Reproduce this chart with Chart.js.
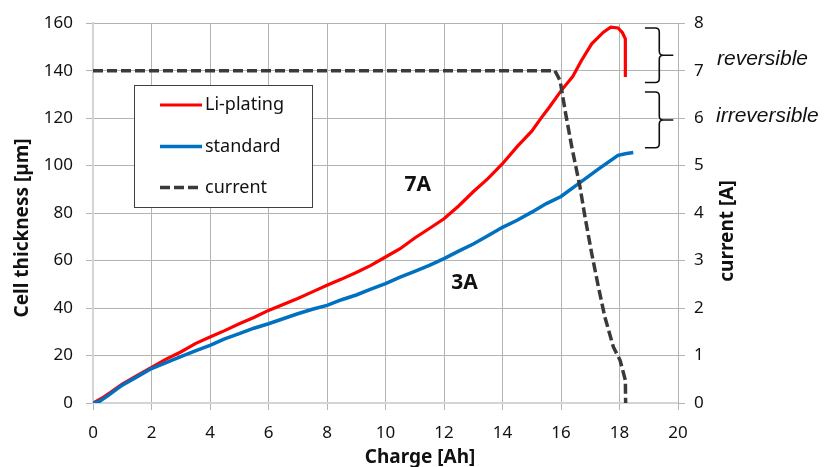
<!DOCTYPE html>
<html>
<head>
<meta charset="utf-8">
<script src="https://cdn.jsdelivr.net/npm/chart.js@4/dist/chart.umd.min.js"></script>
<style>
  html, body { margin: 0; padding: 0; background: #ffffff; }
  #wrap { width: 825px; height: 467px; }
</style>
</head>
<body>
<div id="wrap"><canvas id="c" width="825" height="467"></canvas></div>
<script>
// Cell thickness during charging (Li-plating vs. standard) and charge current
const chargeLi = [0, 0.3, 0.6, 1, 1.5, 2, 2.5, 3, 3.5, 4, 4.5, 5, 5.5, 6, 6.5, 7, 7.5, 8, 8.5, 9, 9.5, 10, 10.5, 11, 11.5, 12, 12.5, 13, 13.5, 14, 14.5, 15, 15.3, 15.6, 16, 16.4, 16.7, 17.05, 17.45, 17.7, 17.95, 18.1, 18.2, 18.2];
const thicknessLi = [0, 2, 4.5, 8, 11.5, 15, 18.5, 21.5, 25, 27.8, 30.5, 33.4, 36, 39, 41.5, 44, 46.8, 49.6, 52.2, 55, 58, 61.5, 65, 69.5, 73.5, 77.6, 83, 89, 94.5, 100.8, 108, 114.5, 119.7, 124.6, 131.5, 137.5, 144.3, 151.3, 156.2, 158.3, 158, 156, 153.4, 137.3];

const chargeStd = [0, 0.2, 0.5, 1, 1.5, 2, 2.5, 3, 3.5, 4, 4.5, 5, 5.5, 6, 6.5, 7, 7.5, 8, 8.5, 9, 9.5, 10, 10.5, 11, 11.5, 12, 12.5, 13, 13.5, 14, 14.5, 15, 15.5, 16, 16.6, 17.3, 17.95, 18.2, 18.47];
const thicknessStd = [0, 0.5, 3, 7.5, 11, 14.5, 17, 19.5, 22, 24.3, 27, 29.2, 31.5, 33.4, 35.5, 37.6, 39.5, 41.1, 43.5, 45.5, 48, 50.3, 53, 55.5, 58, 60.8, 64, 67, 70.5, 74, 77, 80.4, 84, 87, 92.4, 98.7, 104.3, 105, 105.5];

const chargeCurrent = [0, 2, 4, 6, 8, 10, 12, 14, 15.79, 15.97, 16.14, 16.37, 16.65, 16.82, 17.05, 17.28, 17.5, 17.79, 18.02, 18.2, 18.21];
const currentA = [7, 7, 7, 7, 7, 7, 7, 7, 7, 6.79, 6.16, 5.39, 4.55, 3.92, 3.15, 2.44, 1.81, 1.18, 0.9, 0.48, 0];

const seriesNames = ['Li-plating', 'standard', 'current'];
const xTickStep = 2, xMax = 20;
const yTickStep = 20, yMax = 160;
const y1TickStep = 1, y1Max = 8;

// thickness ranges marked by the braces [bottom, top] in µm
const reversibleSpan = [135, 158];
const irreversibleSpan = [107.5, 131];
// current labels placed near the curves: [charge, thickness]
const label7A = [11.1, 92];
const label3A = [12.7, 50.6];

const pts = (xs, ys) => xs.map((x, i) => ({ x, y: ys[i] }));

const FONT = '"Noto Sans", "Open Sans", sans-serif';
const GRID = '#b3b3b3';

const overlay = {
  id: 'overlay',
  afterDatasetsDraw(chart) {
    const { ctx, chartArea: a, scales } = chart;
    const sx = scales.x, sy = scales.y;
    ctx.save();

    // legend box
    const lx = 134.5, ly = 85.5, lw = 178, lh = 122;
    ctx.fillStyle = '#ffffff';
    ctx.fillRect(lx, ly, lw, lh);
    ctx.strokeStyle = '#404040';
    ctx.lineWidth = 1;
    ctx.strokeRect(lx, ly, lw, lh);
    const rows = [105, 146.5, 187.5];
    [0, 1, 2].forEach((di, i) => {
      const ds = chart.data.datasets[di];
      ctx.save();
      ctx.strokeStyle = ds.borderColor;
      ctx.lineWidth = ds.borderWidth;
      ctx.setLineDash(ds.borderDash || []);
      ctx.beginPath();
      ctx.moveTo(160, rows[i]);
      ctx.lineTo(202, rows[i]);
      ctx.stroke();
      ctx.restore();
      ctx.fillStyle = '#111';
      ctx.font = '18px ' + FONT;
      ctx.textBaseline = 'middle';
      ctx.textAlign = 'left';
      ctx.fillText(ds.label, 205, rows[i]);
    });

    // current labels
    ctx.fillStyle = '#111';
    ctx.font = 'bold 21px ' + FONT;
    ctx.textAlign = 'center';
    ctx.textBaseline = 'middle';
    ctx.fillText('7A', sx.getPixelForValue(label7A[0]), sy.getPixelForValue(label7A[1]));
    ctx.fillText('3A', sx.getPixelForValue(label3A[0]), sy.getPixelForValue(label3A[1]));

    // braces
    const brace = (span) => {
      const xl = sx.getPixelForValue(18.87);
      const xm = sx.getPixelForValue(19.36);
      const xr = sx.getPixelForValue(19.84);
      const yt = sy.getPixelForValue(span[1]);
      const yb = sy.getPixelForValue(span[0]);
      const ym = (yt + yb) / 2;
      const r = 4;
      ctx.beginPath();
      ctx.moveTo(xl, yt);
      ctx.lineTo(xm - r, yt);
      ctx.quadraticCurveTo(xm, yt, xm, yt + r);
      ctx.lineTo(xm, ym - r);
      ctx.quadraticCurveTo(xm, ym, xm + r, ym);
      ctx.lineTo(xr, ym);
      ctx.moveTo(xm + r, ym);
      ctx.quadraticCurveTo(xm, ym, xm, ym + r);
      ctx.lineTo(xm, yb - r);
      ctx.quadraticCurveTo(xm, yb, xm - r, yb);
      ctx.lineTo(xl, yb);
      ctx.strokeStyle = '#111';
      ctx.lineWidth = 1.6;
      ctx.setLineDash([]);
      ctx.stroke();
      return ym;
    };
    const m1 = brace(reversibleSpan);
    const m2 = brace(irreversibleSpan);
    ctx.fillStyle = '#111';
    ctx.font = 'italic 21px "Liberation Sans", Arial, sans-serif';
    ctx.textAlign = 'left';
    ctx.textBaseline = 'alphabetic';
    ctx.fillText('reversible', a.right + 39, m1 + 10);
    ctx.fillText('irreversible', a.right + 38, m2 + 2);

    // axis titles
    ctx.font = 'bold 19px ' + FONT;
    ctx.textAlign = 'center';
    ctx.textBaseline = 'middle';
    ctx.fillStyle = '#111';
    ctx.save();
    ctx.translate(23, 228);
    ctx.rotate(-Math.PI / 2);
    ctx.fillText('Cell thickness [µm]', 0, 0);
    ctx.restore();
    ctx.save();
    ctx.translate(728, 231);
    ctx.rotate(-Math.PI / 2);
    ctx.fillText('current [A]', 0, 0);
    ctx.restore();
    ctx.fillText('Charge [Ah]', 420, 458);

    ctx.restore();
  }
};

const tickFont = { family: FONT, size: 17 };

new Chart(document.getElementById('c').getContext('2d'), {
  type: 'line',
  data: {
    datasets: [
      { label: seriesNames[0], data: pts(chargeLi, thicknessLi), yAxisID: 'y',
        borderColor: '#ff0000', borderWidth: 3.2, pointRadius: 0, tension: 0, order: 2 },
      { label: seriesNames[1], data: pts(chargeStd, thicknessStd), yAxisID: 'y',
        borderColor: '#0070c0', borderWidth: 3.5, pointRadius: 0, tension: 0, order: 1 },
      { label: seriesNames[2], data: pts(chargeCurrent, currentA), yAxisID: 'y1',
        borderColor: '#3a3a3a', borderWidth: 3.5, borderDash: [10, 4], pointRadius: 0, tension: 0, order: 0 }
    ]
  },
  options: {
    responsive: false,
    animation: false,
    layout: { padding: { top: 23, left: 0, right: 0, bottom: 0 } },
    plugins: { legend: { display: false }, tooltip: { enabled: false } },
    scales: {
      x: {
        type: 'linear', min: 0, max: xMax,
        ticks: { stepSize: xTickStep, font: tickFont, color: '#111', padding: 13 },
        grid: { color: GRID, lineWidth: 1, tickLength: 7 },
        border: { color: '#d4d4d4', width: 2 },
        afterFit(s) { s.height = 64; }
      },
      y: {
        position: 'left', min: 0, max: yMax,
        ticks: { stepSize: yTickStep, font: tickFont, color: '#111', padding: 13 },
        grid: { color: GRID, lineWidth: 1, tickLength: 7 },
        border: { color: '#d4d4d4', width: 2 },
        afterFit(s) { s.width = 93; }
      },
      y1: {
        position: 'right', min: 0, max: y1Max,
        ticks: { stepSize: y1TickStep, font: tickFont, color: '#111', padding: 9 },
        grid: { drawOnChartArea: false, color: GRID, lineWidth: 1, tickLength: 7 },
        border: { color: GRID, width: 1 },
        afterFit(s) { s.width = 147; }
      }
    }
  },
  plugins: [overlay]
});
</script>
</body>
</html>
